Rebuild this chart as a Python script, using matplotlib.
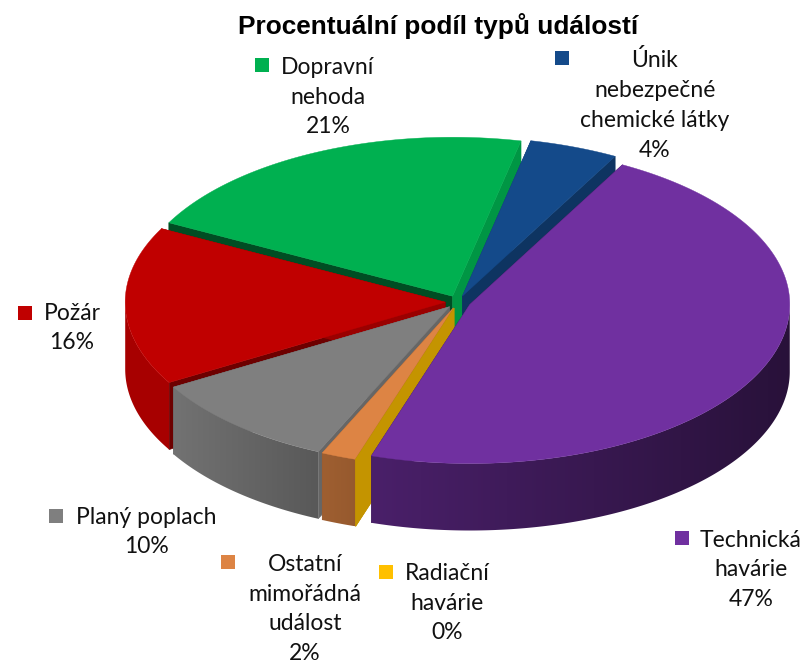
import numpy as np
import matplotlib
matplotlib.use("Agg")
import matplotlib.pyplot as plt
from matplotlib.colors import to_rgb
from matplotlib.patches import Polygon

# Data, clockwise from the start angle
names = ["Technická\nhavárie", "Radiační\nhavárie", "Ostatní\nmimořádná\nudálost",
         "Planý poplach", "Požár", "Dopravní\nnehoda", "Únik\nnebezpečné\nchemické látky"]
values = [47.1, 0.0, 1.75, 9.85, 16.1, 20.8, 4.49]
colors = ["#7030A0", "#FFC000", "#DD8444", "#7F7F7F", "#C00000", "#00B050", "#144A8A"]

# Shades: outer wall at left/right end, cut face at start/end of the slice
wall_shades = [(0.66, 0.36), (0.77, 0.77), (0.72, 0.68), (0.90, 0.70), (0.87, 0.87), (0.8, 0.8), (0.7, 0.7)]
cut_shades = [(0.5, 0.5), (0.77, 0.77), (0.7, 0.7), (0.8, 0.8), (0.57, 0.8), (0.44, 0.85), (0.8, 0.7)]

# Back to front
draw_order = [5, 6, 4, 3, 2, 1, 0]

# Label placement: centre of text, legend key
label_pos = [(751, 570), (447, 603), (305, 609), (146, 532), (72, 328), (328, 97), (655, 105)]
key_pos = [(682, 538), (386, 572), (228, 562), (56, 516), (25, 313), (262, 65), (562, 58)]

START_ANGLE = 61.5
EXPLODE = 0.04
CX, CY = 458, 302
RX, RY = 320, 159
DEPTH = 67


def shaded(color, f):
    return tuple(c * f for c in to_rgb(color))


def rim(apex, theta):
    return apex[0] + RX * np.cos(theta), apex[1] - RY * np.sin(theta)


def draw_slice(ax, color, t_start, t_end, wall, cut, z):
    """t_start > t_end, both in radians, going clockwise"""
    mid = (t_start + t_end) / 2
    apex = (CX + EXPLODE * RX * np.cos(mid), CY - EXPLODE * RY * np.sin(mid))
    thetas = np.linspace(t_start, t_end, max(int(np.degrees(t_start - t_end)) * 2, 2))
    xs, ys = rim(apex, thetas)

    # cut faces
    for t, f in zip((t_start, t_end), cut):
        x, y = rim(apex, t)
        c = shaded(color, f)
        ax.fill([apex[0], x, x, apex[0]], [apex[1], y, y + DEPTH, apex[1] + DEPTH],
                facecolor=c, edgecolor=c, linewidth=0.4, zorder=z)

    # outer wall, front part only, gradient from left to right
    front = np.sin(thetas) < 0
    if front.sum() > 1:
        fx, fy = xs[front], ys[front]
        wall_poly = Polygon(np.c_[np.r_[fx, fx[::-1]], np.r_[fy, fy[::-1] + DEPTH]],
                            transform=ax.transData, facecolor="none", edgecolor="none")
        ax.add_patch(wall_poly)
        ramp = np.linspace(wall[0], wall[1], 256)[None, :, None] * np.array(to_rgb(color))
        im = ax.imshow(ramp, extent=(fx.min(), fx.max(), fy.max() + DEPTH, fy.min()),
                       aspect="auto", interpolation="bilinear", zorder=z + 0.1)
        im.set_clip_path(wall_poly)

    # top
    if t_start > t_end:
        ax.fill(np.r_[apex[0], xs], np.r_[apex[1], ys], facecolor=color, edgecolor=color,
                linewidth=0.3, zorder=z + 0.2)


fig = plt.figure(figsize=(8.03, 6.64), dpi=100)
ax = fig.add_axes([0, 0, 1, 1])

shares = np.array(values) / sum(values) * 360
ends = START_ANGLE - np.cumsum(shares)
starts = ends + shares
for z, i in enumerate(draw_order):
    draw_slice(ax, colors[i], np.radians(starts[i]), np.radians(ends[i]), wall_shades[i], cut_shades[i], z + 1)

ax.set_xlim(0, 803)
ax.set_ylim(664, 0)
ax.axis("off")

ax.text(438, 26, "Procentuální podíl typů událostí", ha="center", va="center",
        fontsize=18.9, fontweight="bold", family="Liberation Sans", zorder=20)

for i, name in enumerate(names):
    ax.text(*label_pos[i], f"{name}\n{round(values[i])}%", ha="center", va="center",
            fontsize=16.5, family="Lato", linespacing=1.52, color="#111111", zorder=20)
    ax.plot(*key_pos[i], marker="s", markersize=9.5, color=colors[i], markeredgewidth=0, zorder=20)

fig.savefig("out.png", dpi=100)
